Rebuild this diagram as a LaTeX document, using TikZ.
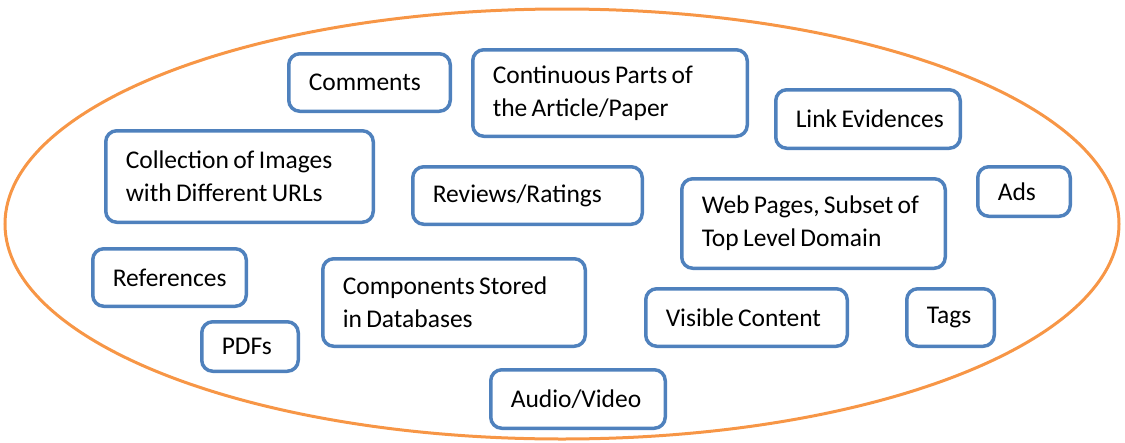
\documentclass[tikz,border=0pt]{standalone}
\usepackage{fontspec}
\setmainfont{Carlito}
\definecolor{boxblue}{HTML}{4F81BD}
\definecolor{ringorange}{HTML}{F79646}
\hyphenpenalty = 10000
\exhyphenpenalty = 10000
\newcommand\boxfmt{\spaceskip = 0.17em plus 0.04em\relax}

\begin{document}
\begin{tikzpicture}[x = 1pt, y = -1pt]
    \tikzset{
        content-box/.style = {
            draw = boxblue, line width = 3.5pt, rounded corners = 11pt,
            align = left, inner xsep = 20pt, inner ysep = 0pt,
            font = \fontsize{25.5}{33}\selectfont
        }
    }

    \useasboundingbox (0, 0) rectangle (1125, 442);
    \draw[ringorange, line width = 3pt]
        (562, 224) ellipse [x radius = 557pt, y radius = 215pt];

    \foreach \name/\x/\y/\w/\h/\txt in {
        comments/369.5/82.5/165/61/{Comments},
        contparts/610/93/278/90/{Continuous~Parts~of\\the~Article/Paper},
        linkev/868/119/188/62/{\mbox{Link~Evidences}},
        images/239.5/176.5/271/95/{Collection~of~Images\\with~Different~URLs},
        reviews/527.5/195.5/233/61/{Reviews/Ratings},
        webpages/813.5/223.5/267/93/{Web~Pages,~Subset~of\\Top~Level~Domain},
        ads/1024/191.5/96/53/{Ads},
        references/169.5/277.5/157/61/{References},
        components/454/302.5/266/91/{Components~Stored\\in~Databases},
        visible/746.5/317.5/205/61/{Visible~Content},
        tags/950.5/317.5/91/61/{Tags},
        pdfs/250/346.5/100/53/{PDFs},
        audio/578/399/178/62/{Audio/Video}
    }{
        \pgfmathsetmacro\boxw{\w - 3.5}
        \pgfmathsetmacro\boxh{\h - 3.5}
        \pgfmathsetmacro\textw{\w - 43.5}
        \node[content-box, minimum width = \boxw pt, minimum height = \boxh pt,
            text width = \textw pt] (\name) at (\x, \y) {\boxfmt\txt};
    }
\end{tikzpicture}
\end{document}
